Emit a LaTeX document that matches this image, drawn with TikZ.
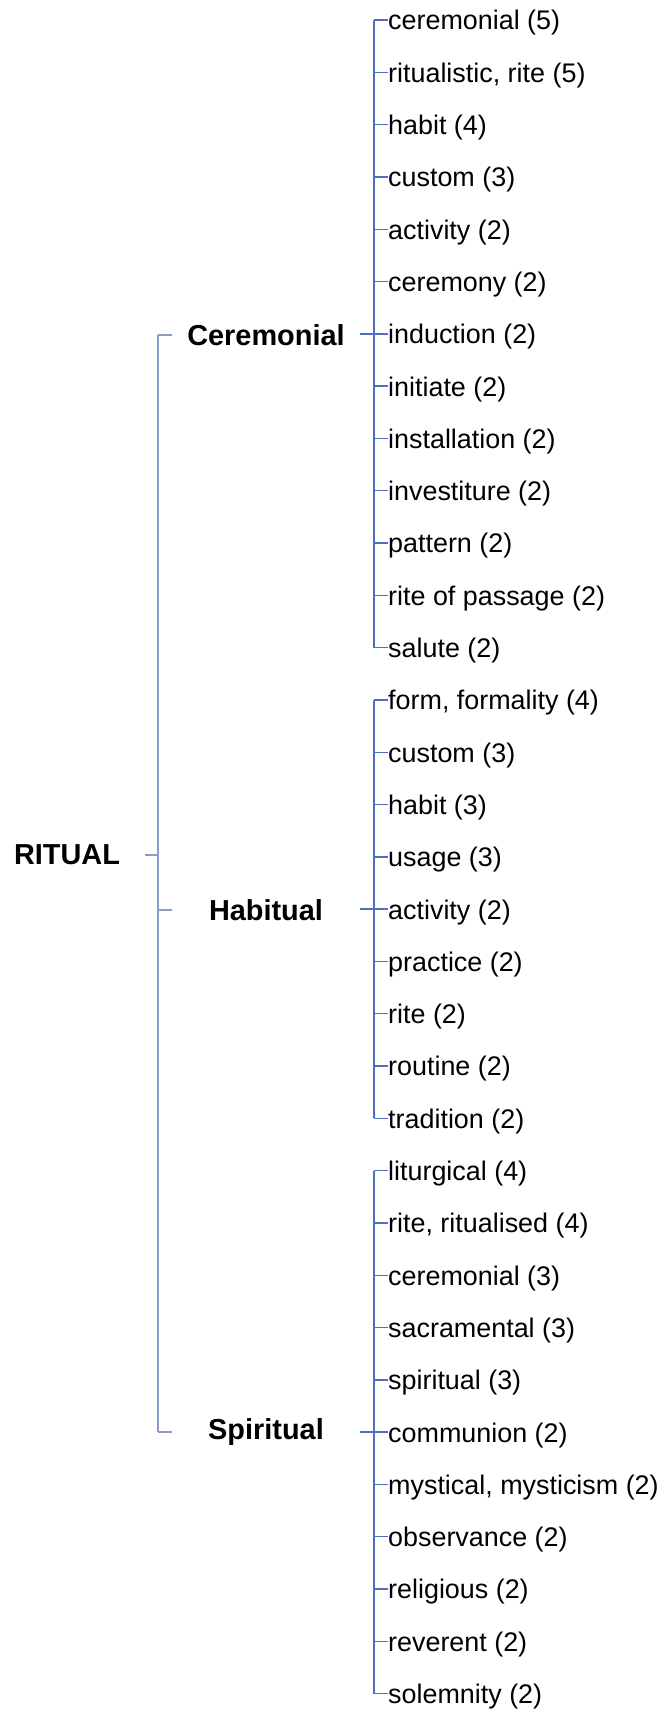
\documentclass[tikz,border=0pt]{standalone}
\usepackage{fontspec}
\setmainfont{Liberation Sans}
\definecolor{spineblue}{HTML}{4F6FC0}
\definecolor{rootgrey}{HTML}{8D9CC6}
\tikzset{
    leaf/.style={anchor=west, inner sep=0pt, font=\fontsize{27}{32}\selectfont},
    cat/.style={inner sep=0pt, font=\fontsize{29}{34}\selectfont\bfseries},
    spine/.style={draw=spineblue, line width=1.4bp},
    rootspine/.style={draw=rootgrey, line width=1.4bp},
}

\begin{document}
\begin{tikzpicture}[x=1bp, y=-1bp]
        \useasboundingbox (0,0) rectangle (665,1713);
        \node[cat] at (67, 855)(ritual){RITUAL};
        \node[cat] at (266, 335)(cer){Ceremonial};
        \node[cat] at (266, 910)(hab){Habitual};
        \node[cat] at (266, 1432)(spi){Spiritual};

        % leaves, 52.3 apart
        \foreach \t [count=\i from 0] in {ceremonial (5), {ritualistic, rite (5)}, habit (4), custom (3), activity (2), ceremony (2), induction (2), initiate (2), installation (2), investiture (2), pattern (2), rite of passage (2), salute (2)}{
            \coordinate (b\i) at (374, 20+52.3*\i);
            \node[leaf] at (388, 23+52.3*\i)(l\i){\t};
            \draw[spine] (b\i) -- (l\i.west |- b\i);
        }
        \foreach \t [count=\i from 13] in {{form, formality (4)}, custom (3), habit (3), usage (3), activity (2), practice (2), rite (2), routine (2), tradition (2)}{
            \coordinate (b\i) at (374, 20+52.3*\i);
            \node[leaf] at (388, 23+52.3*\i)(l\i){\t};
            \draw[spine] (b\i) -- (l\i.west |- b\i);
        }
        \foreach \t [count=\i from 22] in {liturgical (4), {rite, ritualised (4)}, ceremonial (3), sacramental (3), spiritual (3), communion (2), {mystical, mysticism (2)}, observance (2), religious (2), reverent (2), solemnity (2)}{
            \coordinate (b\i) at (374, 20+52.3*\i);
            \node[leaf] at (388, 23+52.3*\i)(l\i){\t};
            \draw[spine] (b\i) -- (l\i.west |- b\i);
        }

        \path[spine]
            (b0) -- (b12)
            (b13) -- (b21)
            (b22) -- (b32)
            (b6) -- ++(-14,0)
            (b17) -- ++(-14,0)
            (b27) -- ++(-14,0)
            ;

        % root bracket
        \coordinate (rc) at (158, 335);
        \coordinate (rh) at (158, 910);
        \coordinate (rs) at (158, 1432);
        \coordinate (rr) at (158, 855);
        \path[rootspine]
            (rc) -- (rs)
            (rc) -- ++(14,0)
            (rh) -- ++(14,0)
            (rs) -- ++(14,0)
            (rr) -- ++(-13,0)
            ;
    \end{tikzpicture}
\end{document}
